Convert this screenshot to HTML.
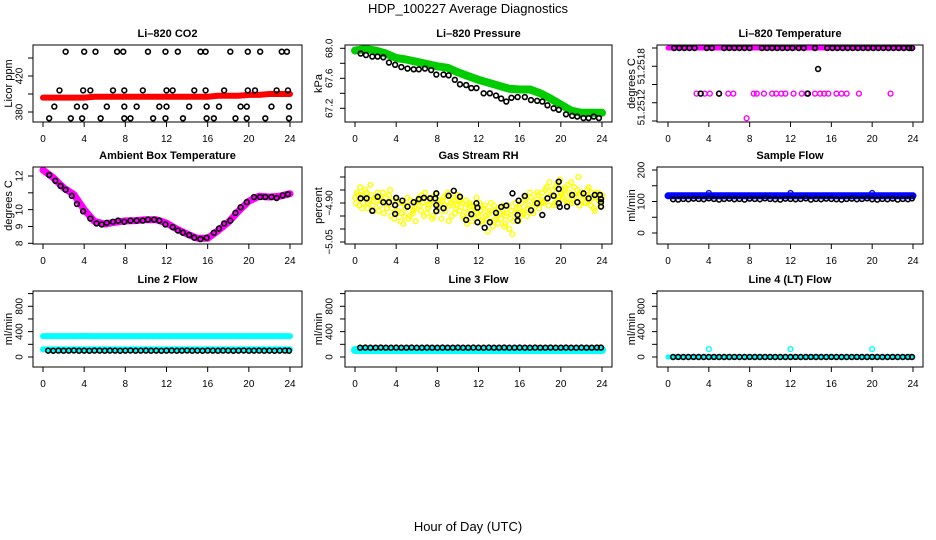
<!DOCTYPE html>
<html><head><meta charset="utf-8">
<style>
html,body{margin:0;padding:0;background:#fff;}
svg{display:block;font-family:"Liberation Sans",Arial,sans-serif;}
</style></head>
<body>
<svg id="chart" width="936" height="540" viewBox="0 0 936 540" xmlns="http://www.w3.org/2000/svg">
<rect x="0" y="0" width="936" height="540" fill="#fff"/>
<text x="468" y="13" text-anchor="middle" font-size="13">HDP_100227  Average Diagnostics</text>
<text x="468" y="531" text-anchor="middle" font-size="13">Hour of Day (UTC)</text>
</svg>
<script>
// ---- data ----
const xTicks = [0,4,8,12,16,20,24];
const hours = [0,1,2,3,4,5,6,7,8,9,10,11,12,13,14,15,16,17,18,19,20,21,22,23,24];
// CO2
const co2Line = [396,396,396,396,396,397,397,397,397,397,397,397,397,397,397,397,397,398,398,398,399,399,400,400,400];
const co2T = [2.2,4.0,5.1,7.2,7.8,10.2,11.9,13.1,15.3,15.8,18.2,19.9,21.1,23.2,23.7,
  1.6,3.9,4.6,6.8,7.9,9.7,12.0,12.6,14.7,15.8,17.6,19.9,20.6,22.7,23.8,
  1.1,3.3,4.1,6.2,7.9,9.1,11.3,12.0,14.2,15.9,17.1,19.2,19.8,22.2,23.9,
  0.6,2.7,3.8,5.6,7.9,8.5,10.7,11.9,13.6,15.9,16.6,18.7,19.8,21.6,23.9];
const co2V = [447,447,447,447,447,447,447,447,447,447,447,447,447,447,447,
  404,404,404,404,404,404,404,404,404,404,404,404,404,404,404,
  386,386,386,386,386,386,386,386,386,386,386,386,386,386,386,
  373,373,373,373,373,373,373,373,373,373,373,373,373,373,373];
// Pressure
const presLine = [67.97,67.99,67.97,67.93,67.87,67.85,67.82,67.79,67.76,67.74,67.68,67.63,67.58,67.54,67.50,67.46,67.45,67.45,67.40,67.33,67.25,67.17,67.14,67.14,67.14];
const presT = [0.55,1.07,1.68,2.2,2.75,3.3,3.9,4.5,5.1,5.7,6.2,6.8,7.4,7.9,8.6,9.1,9.7,10.2,10.8,11.3,11.8,12.5,13.1,13.7,14.2,14.7,15.2,15.8,16.5,17.1,17.7,18.2,18.7,19.3,19.8,20.5,21.1,21.6,22.2,22.7,23.2,23.7];
const presV = [67.93,67.91,67.89,67.89,67.88,67.81,67.78,67.75,67.73,67.72,67.72,67.73,67.71,67.65,67.65,67.64,67.58,67.52,67.51,67.47,67.47,67.40,67.40,67.37,67.33,67.29,67.34,67.35,67.35,67.31,67.30,67.29,67.24,67.20,67.18,67.12,67.10,67.09,67.07,67.07,67.09,67.07];
// Li-820 temperature
const tempBand = [51.2518,51.2518,51.2518,51.2518,51.2518,51.2518,51.2518,51.2518,51.2518,51.2518,51.2518,51.2518,51.2518,51.2518,51.2518,51.2518,51.2518,51.2518,51.2518,51.2518,51.2518,51.2518,51.2518,51.2518,51.2518];
const tempMagT = [2.8,3.6,4.1,5.0,5.9,6.4,8.4,8.7,9.4,10.2,10.6,11.1,11.5,12.3,13.1,13.6,14.4,14.9,15.3,15.7,16.5,17.0,17.5,18.7,21.8,7.7];
const tempMagV = [51.2513,51.2513,51.2513,51.2513,51.2513,51.2513,51.2513,51.2513,51.2513,51.2513,51.2513,51.2513,51.2513,51.2513,51.2513,51.2513,51.2513,51.2513,51.2513,51.2513,51.2513,51.2513,51.2513,51.2513,51.2513,51.25103];
const tempBlkT = [0.6,1.1,1.6,2.1,2.6,3.8,4.3,5.5,6.0,6.5,7.0,7.5,8.0,9.2,9.7,10.2,10.7,11.2,11.7,12.2,12.8,13.3,14.4,15.6,16.1,16.6,17.1,17.6,18.1,18.6,19.1,19.6,20.1,20.6,21.1,21.6,22.1,22.6,23.1,23.6,23.9,3.2,5.0,13.7,14.7];
const tempBlkV = [51.2518,51.2518,51.2518,51.2518,51.2518,51.2518,51.2518,51.2518,51.2518,51.2518,51.2518,51.2518,51.2518,51.2518,51.2518,51.2518,51.2518,51.2518,51.2518,51.2518,51.2518,51.2518,51.2518,51.2518,51.2518,51.2518,51.2518,51.2518,51.2518,51.2518,51.2518,51.2518,51.2518,51.2518,51.2518,51.2518,51.2518,51.2518,51.2518,51.2518,51.2518,51.2513,51.2513,51.2513,51.25157];
// Ambient box temperature
const ambLine = [12.35,11.9,11.3,10.9,10.0,9.3,9.15,9.25,9.33,9.35,9.4,9.4,9.2,8.85,8.55,8.3,8.3,8.75,9.25,9.9,10.5,10.8,10.75,10.8,10.95];
const ambT = [0.6,1.2,1.7,2.2,2.8,3.3,3.9,4.6,5.2,5.7,6.2,6.8,7.3,7.9,8.5,9.1,9.7,10.2,10.8,11.3,11.9,12.6,13.1,13.6,14.2,14.7,15.3,15.9,16.6,17.1,17.6,18.2,18.7,19.2,19.8,20.5,21.1,21.6,22.2,22.7,23.3,23.8];
const ambV = [12.06,11.71,11.41,11.18,10.82,10.34,9.90,9.47,9.18,9.12,9.22,9.28,9.35,9.28,9.35,9.35,9.35,9.41,9.41,9.35,9.12,8.96,8.76,8.63,8.49,8.33,8.25,8.33,8.63,8.88,9.18,9.35,9.81,10.14,10.45,10.75,10.75,10.75,10.75,10.69,10.84,10.92];
// Gas stream RH
const rhYA = [-4.88,-4.86,-4.91,-4.87,-4.90,-4.85,-4.92,-4.89,-4.87,-4.93,-4.88,
 -4.86,-4.91,-4.89,-4.94,-4.88,-4.90,-4.85,-4.92,-4.96,-4.89,
 -4.93,-4.97,-4.90,-4.95,-4.91,-4.96,-4.89,-4.94,-4.92,-4.90,
 -4.88,-4.93,-4.90,-4.86,-4.94,-4.91,-4.89,-4.95,-4.87,-4.92,
 -4.90,-4.96,-4.88,-4.93,-4.86,-4.91,-4.95,-4.89,-4.92,-4.87,
 -4.93,-4.90,-4.96,-4.89,-4.94,-4.91,-4.97,-4.92,-4.88,-4.95,
 -4.93,-4.98,-4.91,-4.96,-4.94,-4.90,-4.99,-4.93,-4.95,-4.92,
 -4.96,-4.91,-4.98,-4.94,-5.00,-4.93,-4.97,-4.90,-4.95,-4.92,
 -4.90,-4.94,-4.88,-4.92,-4.86,-4.93,-4.89,-4.91,-4.87,-4.90,
 -4.86,-4.89,-4.84,-4.91,-4.87,-4.85,-4.90,-4.83,-4.88,-4.86,
 -4.88,-4.84,-4.90,-4.86,-4.82,-4.89,-4.87,-4.85,-4.91,-4.86,
 -4.87,-4.90,-4.85,-4.89,-4.86,-4.92,-4.88,-4.86,-4.90,-4.88];
const rhYB = [-4.90,-4.87,-4.84,-4.92,-4.88,-4.86,-4.90,-4.83,-4.91,-4.88,-4.89,
 -4.93,-4.88,-4.86,-4.90,-4.92,-4.87,-4.95,-4.89,-4.91,-4.94,
 -4.90,-4.94,-4.98,-4.92,-4.88,-4.95,-4.91,-4.93,-4.97,-4.89,
 -4.91,-4.87,-4.95,-4.89,-4.92,-4.88,-4.96,-4.90,-4.93,-4.89,
 -4.93,-4.89,-4.91,-4.87,-4.97,-4.90,-4.88,-4.94,-4.91,-4.89,
 -4.89,-4.95,-4.92,-4.98,-4.90,-4.93,-4.91,-4.96,-4.94,-4.90,
 -4.97,-4.92,-4.95,-5.01,-4.93,-4.97,-4.91,-4.96,-4.98,-4.94,
 -4.93,-4.99,-4.95,-4.91,-4.96,-5.02,-4.94,-4.92,-4.97,-4.95,
 -4.93,-4.89,-4.95,-4.91,-4.88,-4.94,-4.90,-4.86,-4.92,-4.89,
 -4.90,-4.85,-4.88,-4.82,-4.87,-4.91,-4.84,-4.89,-4.81,-4.87,
 -4.85,-4.89,-4.83,-4.87,-4.90,-4.84,-4.88,-4.80,-4.86,-4.89,
 -4.90,-4.87,-4.84,-4.91,-4.88,-4.93,-4.86,-4.89,-4.91,-4.87];
const rhBT = [0.55,1.13,1.68,2.2,2.75,3.3,3.9,3.9,4.0,4.6,5.1,5.7,6.2,6.7,7.3,7.8,7.9,7.9,7.9,8.6,9.1,9.6,10.2,10.8,11.3,11.8,11.9,11.9,12.6,13.1,13.7,14.2,14.7,15.3,15.8,15.8,15.9,16.5,17.1,17.7,18.2,18.7,19.3,19.8,19.8,19.8,19.9,20.6,21.1,21.6,22.2,22.7,23.3,23.8,23.9,23.9,23.9];
const rhBV = [-4.882,-4.882,-4.930,-4.876,-4.897,-4.897,-4.908,-4.942,-4.880,-4.891,-4.914,-4.897,-4.885,-4.880,-4.882,-4.882,-4.908,-4.931,-4.863,-4.920,-4.872,-4.853,-4.876,-4.965,-4.943,-4.901,-4.918,-4.974,-4.995,-4.974,-4.938,-4.915,-4.910,-4.863,-4.946,-4.968,-4.891,-4.873,-4.928,-4.901,-4.946,-4.882,-4.872,-4.846,-4.818,-4.901,-4.915,-4.914,-4.869,-4.897,-4.863,-4.882,-4.869,-4.869,-4.885,-4.897,-4.914];
// Flows
const halfHours = [0.5,1,1.5,2,2.5,3,3.5,4,4.5,5,5.5,6,6.5,7,7.5,8,8.5,9,9.5,10,10.5,11,11.5,12,12.5,13,13.5,14,14.5,15,15.5,16,16.5,17,17.5,18,18.5,19,19.5,20,20.5,21,21.5,22,22.5,23,23.5,23.9];
const sampleLine = [118,118,118,118,118,118,118,118,118,118,118,118,118,118,118,118,118,118,118,118,118,118,118,118,118];
const sampleBlk = [107,106,108,107,109,108,107,110,108,106,108,109,107,108,106,109,108,107,110,108,107,106,109,108,107,108,110,106,108,107,109,108,107,106,108,109,107,108,110,107,106,108,107,109,106,108,107,110];
const spikeT = [4,12,20];
const sampleSpike = [127,127,127];
const line2Upper = [330,330,330,330,332,330,330,330,330,330,330,330,330,330,330,330,330,330,330,330,330,330,330,330,330];
const line2Lower = [120,120,120,120,120,120,120,120,120,120,120,120,120,120,120,120,120,120,120,120,120,120,120,120,120];
const line2Blk = [100,98,101,99,100,102,99,100,98,101,100,99,101,100,98,100,102,99,100,101,99,100,98,100,101,99,100,102,99,100,98,101,100,99,101,100,98,100,102,99,100,101,99,100,98,100,101,99];
const line3Cyan = [110,110,110,110,110,110,110,110,110,110,110,110,110,110,110,110,110,110,110,110,110,110,110,110,110];
const line3Blk = [147,148,146,147,149,147,146,148,147,147,149,146,147,148,147,146,148,147,147,149,146,147,148,147,146,148,147,147,149,146,147,148,147,146,148,147,147,149,146,147,148,147,146,148,147,147,149,148];
const line4Cyan = [0,0,0,0,0,0,0,0,0,0,0,0,0,0,0,0,0,0,0,0,0,0,0,0,0];
const line4Blk = [0,1,0,0,1,0,0,0,1,0,0,0,1,0,0,1,0,0,0,1,0,0,0,0,1,0,0,1,0,0,0,1,0,0,0,0,1,0,0,1,0,0,0,1,0,0,0,0];
const line4Spike = [125,125,125];

// ---- drawing ----
const NS = "http://www.w3.org/2000/svg";
const svg = document.getElementById("chart");
function el(tag, attrs, parent) {
  const e = document.createElementNS(NS, tag);
  for (const k in attrs) e.setAttribute(k, attrs[k]);
  (parent || svg).appendChild(e);
  return e;
}
const cols = [{bx0:33,bx1:302,t0:43,t24:290,lab:20,tit:9},{bx0:345,bx1:612,t0:355,t24:602,lab:330,tit:319},{bx0:657,bx1:923,t0:668,t24:913,lab:642,tit:632}];
const rows = [{by0:45,by1:122},{by0:167,by1:244},{by0:291,by1:367}];

function panel(c, r, name, title, ytitle, vA, yA, vB, yB, ticks, labels, labelText) {
  const C = cols[c], R = rows[r];
  const g = el("g", {});
  
  
  const sx = t => C.t0 + t * (C.t24 - C.t0) / 24;
  const sy = v => yA + (v - vA) * (yB - yA) / (vB - vA);
  const tt = el("text", {x:(C.bx0+C.bx1)/2, y:R.by0-8, "text-anchor":"middle", "font-size":"11", "font-weight":"bold"}, g);
  tt.textContent = title;
  
  
  const yt = el("text", {x:C.tit, y:(R.by0+R.by1)/2, "text-anchor":"middle", "font-size":"11", transform:`rotate(-90 ${C.tit} ${(R.by0+R.by1)/2})`, "dominant-baseline":"middle"}, g);
  yt.textContent = ytitle;
  
  
  const marks = el("g", {}, g);
  
  
  const axes = el("g", {stroke:"#000", "stroke-width":"1", fill:"none"}, g);
  
  
  el("rect", {x:C.bx0, y:R.by0, width:C.bx1-C.bx0, height:R.by1-R.by0}, axes);
  xTicks.forEach(t => {
    el("line", {x1:sx(t), x2:sx(t), y1:R.by1, y2:R.by1+5}, axes);
    const lt = el("text", {x:sx(t), y:R.by1+20, "text-anchor":"middle", "font-size":"10", fill:"#000", stroke:"none"}, g);
    lt.textContent = t;
    
    
  });
  ticks.forEach(v => {
    el("line", {x1:C.bx0, x2:C.bx0-5, y1:sy(v), y2:sy(v)}, axes);
  });
  labels.forEach((v, i) => {
    const y = sy(v);
    const lt = el("text", {x:C.lab, y:y, "text-anchor":"middle", "font-size":"10", "dominant-baseline":"middle", transform:`rotate(-90 ${C.lab} ${y})`}, g);
    lt.textContent = labelText ? labelText[i] : v;
    
    
  });
  return {sx, sy, g: marks, R, C};
}
function band(p, ts, vs, color, w, name) {
  const pts = ts.map((t,i) => p.sx(t).toFixed(1) + "," + p.sy(vs[i]).toFixed(1)).join(" ");
  const pl = el("polyline", {points:pts, fill:"none", stroke:color, "stroke-width":w, "stroke-linejoin":"round", "stroke-linecap":"round"}, p.g);
  
  
}
function dots(p, ts, vs, color, r, sw, name) {
  ts.forEach((t,i) => {
    const ci = el("circle", {cx:p.sx(t), cy:p.sy(vs[i]), r:r, fill:"none", stroke:color, "stroke-width":sw}, p.g);
    
    
  });
}

// Row 1
let p = panel(0,0,"co2","Li\u2013820 CO2","Licor ppm",380,112,420,76,[380,400,420,440],[380,420]);
band(p, hours, co2Line, "#ff0000", 6, "co2-line");
dots(p, co2T, co2V, "#000", 2.4, 1.6, "co2-point");

p = panel(1,0,"pressure","Li\u2013820 Pressure","kPa",67.2,108.3,68.0,48.3,[67.2,67.4,67.6,67.8,68.0],[67.2,67.6,68.0],["67.2","67.6","68.0"]);
band(p, hours, presLine, "#00cc00", 8, "pressure-line");
dots(p, presT, presV, "#000", 2.4, 1.6, "pressure-point");

p = panel(2,0,"li820-temp","Li\u2013820 Temperature","degrees C",51.2510,121,51.2518,48,[51.2510,51.2512,51.2514,51.2516,51.2518],[51.2516,51.25115],["51.2518","51.2512"]);
band(p, hours, tempBand, "#ff00ff", 5, "li820-temp-band");
dots(p, tempMagT, tempMagV, "#ff00ff", 2.4, 1.4, "li820-temp-point");
dots(p, tempBlkT, tempBlkV, "#000", 2.4, 1.6, "li820-temp-avg-point");

// Row 2
p = panel(0,1,"ambient","Ambient Box Temperature","degrees C",8,243.3,12,176,[8,9,10,11,12],[8,9,10,12]);
band(p, hours, ambLine, "#ff00ff", 7, "ambient-line");
dots(p, ambT, ambV, "#000", 2.4, 1.6, "ambient-point");

p = panel(1,1,"rh","Gas Stream RH","percent",-4.90,203,-5.05,242,[-4.80,-4.85,-4.90,-4.95,-5.00,-5.05],[-4.90,-5.05],["\u22124.90","\u22125.05"]);
dots(p, rhYA.map((v,i)=>i*0.2), rhYA, "#ffff00", 2.4, 1.4, "rh-point");
dots(p, rhYB.map((v,i)=>Math.min(24,i*0.2+0.1)), rhYB, "#ffff00", 2.4, 1.4, "rh-point");
dots(p, rhBT, rhBV, "#000", 2.4, 1.6, "rh-avg-point");

p = panel(2,1,"sample-flow","Sample Flow","ml/min",0,233,200,170,[0,50,100,150,200],[0,100,200]);
band(p, hours, sampleLine, "#0000ff", 7, "sample-flow-line");
dots(p, spikeT, sampleSpike, "#0000ff", 2.4, 1.4, "sample-flow-spike");
dots(p, halfHours, sampleBlk, "#000", 2.4, 1.6, "sample-flow-point");

// Row 3
p = panel(0,2,"line2","Line 2 Flow","ml/min",0,357,1000,293.6,[0,200,400,600,800,1000],[0,400,800]);
band(p, hours, line2Upper, "#00ffff", 6, "line2-upper-line");
band(p, hours, line2Lower, "#00ffff", 6, "line2-lower-line");
dots(p, halfHours, line2Blk, "#000", 2.4, 1.6, "line2-point");

p = panel(1,2,"line3","Line 3 Flow","ml/min",0,357,1000,293.6,[0,200,400,600,800,1000],[0,400,800]);
band(p, hours, line3Cyan, "#00ffff", 8, "line3-line");
dots(p, halfHours, line3Blk, "#000", 2.4, 1.6, "line3-point");

p = panel(2,2,"line4","Line 4 (LT) Flow","ml/min",0,357,1000,293.6,[0,200,400,600,800,1000],[0,400,800]);
band(p, hours, line4Cyan, "#00ffff", 5, "line4-line");
dots(p, spikeT, line4Spike, "#00ffff", 2.4, 1.4, "line4-spike");
dots(p, halfHours, line4Blk, "#000", 2.4, 1.6, "line4-point");
</script>
</body></html>
